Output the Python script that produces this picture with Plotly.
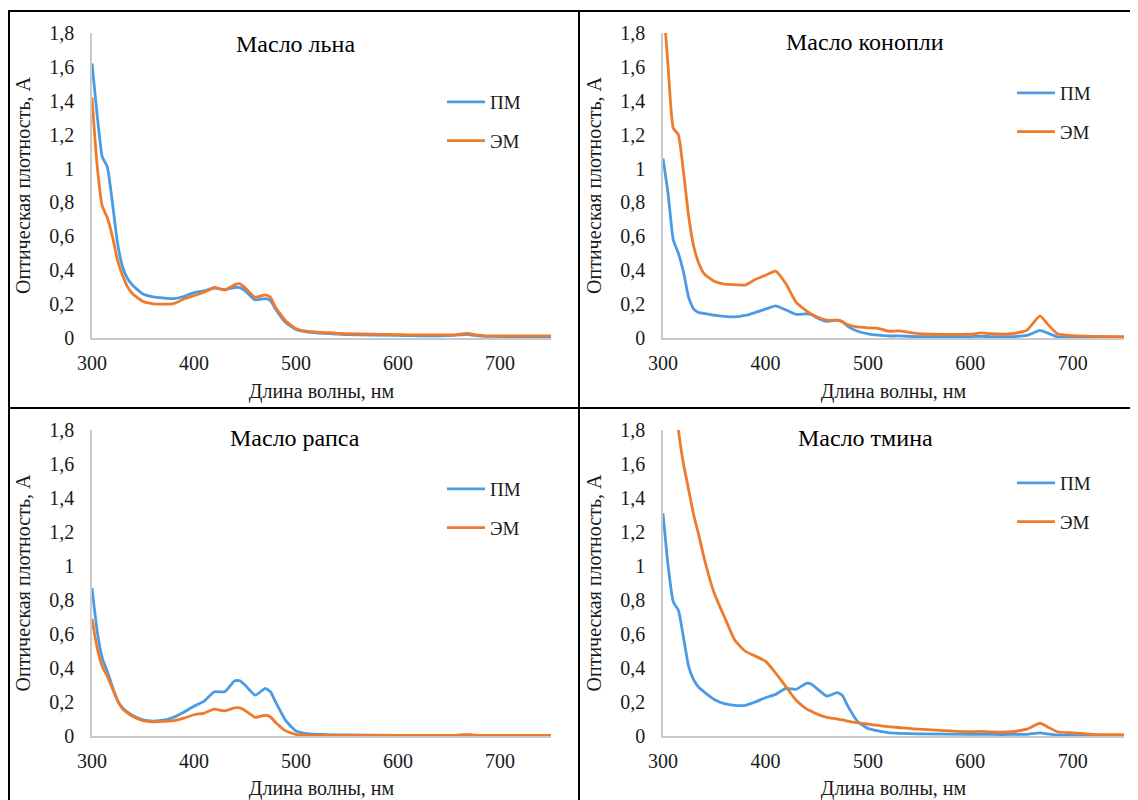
import plotly.graph_objects as go

# ---------------- data ----------------
wavelength = [300, 305, 310, 315, 320, 325, 330, 335, 340, 350, 360, 370, 380, 390,
              400, 410, 420, 430, 440, 445, 450, 460, 470, 475, 480, 490, 500, 510,
              520, 530, 550, 600, 610, 620, 640, 655, 668, 675, 685, 700, 720, 750]

flax_pm = [1.62, 1.32, 1.07, 1.01, 0.80, 0.56, 0.42, 0.35, 0.31, 0.26, 0.243, 0.236, 0.232, 0.245,
           0.268, 0.278, 0.295, 0.285, 0.298, 0.297, 0.28, 0.225, 0.232, 0.22, 0.17, 0.09, 0.05, 0.036,
           0.03, 0.027, 0.02, 0.015, 0.014, 0.013, 0.013, 0.015, 0.022, 0.015, 0.01, 0.009, 0.008, 0.007]
flax_em = [1.42, 1.02, 0.78, 0.71, 0.60, 0.46, 0.37, 0.30, 0.26, 0.215, 0.202, 0.20, 0.203, 0.23,
           0.25, 0.27, 0.298, 0.283, 0.315, 0.32, 0.298, 0.24, 0.255, 0.24, 0.18, 0.10, 0.055, 0.04,
           0.035, 0.031, 0.025, 0.02, 0.019, 0.018, 0.018, 0.019, 0.027, 0.02, 0.013, 0.012, 0.012, 0.012]

hemp_pm = [1.06, 0.85, 0.58, 0.50, 0.39, 0.24, 0.17, 0.15, 0.145, 0.135, 0.128, 0.125, 0.133, 0.15,
           0.17, 0.19, 0.165, 0.14, 0.142, 0.137, 0.12, 0.098, 0.105, 0.098, 0.07, 0.04, 0.025, 0.017,
           0.012, 0.012, 0.008, 0.008, 0.01, 0.008, 0.008, 0.015, 0.045, 0.03, 0.007, 0.004, 0.003, 0.003]
hemp_em = [2.0, 1.6, 1.24, 1.20, 0.98, 0.72, 0.54, 0.44, 0.38, 0.335, 0.318, 0.315, 0.312, 0.345,
           0.37, 0.395, 0.32, 0.21, 0.16, 0.14, 0.125, 0.105, 0.105, 0.095, 0.08, 0.065, 0.06, 0.057,
           0.04, 0.042, 0.025, 0.022, 0.03, 0.025, 0.025, 0.045, 0.13, 0.085, 0.025, 0.014, 0.01, 0.008]

rape_pm = [0.87, 0.62, 0.46, 0.38, 0.29, 0.21, 0.165, 0.14, 0.12, 0.095, 0.088, 0.093, 0.11, 0.14,
           0.175, 0.205, 0.26, 0.26, 0.325, 0.325, 0.30, 0.24, 0.28, 0.26, 0.20, 0.09, 0.03, 0.014,
           0.01, 0.008, 0.006, 0.004, 0.004, 0.003, 0.003, 0.004, 0.006, 0.004, 0.003, 0.002, 0.002, 0.002]
rape_em = [0.69, 0.52, 0.41, 0.35, 0.28, 0.21, 0.16, 0.135, 0.115, 0.09, 0.083, 0.086, 0.09, 0.105,
           0.125, 0.135, 0.158, 0.148, 0.165, 0.165, 0.15, 0.11, 0.122, 0.112, 0.08, 0.03, 0.01, 0.005,
           0.003, 0.003, 0.003, 0.003, 0.003, 0.003, 0.003, 0.004, 0.008, 0.005, 0.003, 0.003, 0.003, 0.003]

caraway_pm = [1.31, 1.00, 0.79, 0.74, 0.58, 0.41, 0.33, 0.285, 0.26, 0.215, 0.19, 0.18, 0.18, 0.20,
              0.225, 0.245, 0.28, 0.275, 0.31, 0.305, 0.28, 0.235, 0.255, 0.24, 0.18, 0.085, 0.045, 0.03,
              0.02, 0.016, 0.012, 0.01, 0.01, 0.009, 0.009, 0.01, 0.018, 0.013, 0.006, 0.004, 0.003, 0.003]
caraway_em = [2.6, 2.3, 2.05, 1.80, 1.60, 1.45, 1.30, 1.18, 1.05, 0.84, 0.70, 0.565, 0.50, 0.47,
              0.44, 0.37, 0.29, 0.21, 0.16, 0.145, 0.13, 0.11, 0.10, 0.095, 0.088, 0.077, 0.07, 0.062,
              0.055, 0.05, 0.04, 0.025, 0.027, 0.024, 0.025, 0.04, 0.075, 0.055, 0.025, 0.018, 0.01, 0.008]

panel_titles = ["Масло льна", "Масло конопли", "Масло рапса", "Масло тмина"]
series_names = ["ПМ", "ЭМ"]
x_title = "Длина волны, нм"
y_title = "Оптическая плотность, А"
x_ticks = [300, 400, 500, 600, 700]
y_ticks = [0, 0.2, 0.4, 0.6, 0.8, 1.0, 1.2, 1.4, 1.6, 1.8]

panels = [(flax_pm, flax_em), (hemp_pm, hemp_em), (rape_pm, rape_em), (caraway_pm, caraway_em)]

# ---------------- layout helpers ----------------
OFF = 8                      # page body margin offset
W, H = 1138 - OFF, 800 - OFF
BLUE = "#4A9BE6"
ORANGE = "#F07A2C"
FONT = "Liberation Serif, Times New Roman, serif"
TXT = "#1a1a1a"


def px_x(p):
    return (p - OFF) / W


def px_y(p):
    return 1 - (p - OFF) / H


# plot-area pixel boxes in window coords: (left, right, top(1.8), bottom(0))
boxes = [(92, 551, 33, 338), (663, 1124, 33, 338), (92, 551, 430, 736), (663, 1124, 430, 736)]
title_pos = [(295, 44), (865, 42), (295, 438), (865, 438)]
legend_pos = [(442, 83), (1012, 74), (442, 470), (1012, 464)]

fig = go.Figure()
layout = dict(
    width=W, height=H,
    margin=dict(l=0, r=0, t=0, b=0, autoexpand=False),
    paper_bgcolor="white", plot_bgcolor="white",
    separators=", ",
    font=dict(family=FONT, color=TXT, size=20),
    annotations=[], shapes=[],
)

for i, ((pm, em), (l, r, t, b)) in enumerate(zip(panels, boxes)):
    n = "" if i == 0 else str(i + 1)
    leg = "legend" if i == 0 else f"legend{i + 1}"
    for name, ys, col in ((series_names[0], pm, BLUE), (series_names[1], em, ORANGE)):
        fig.add_trace(go.Scatter(
            x=wavelength, y=ys, name=name, mode="lines",
            line=dict(color=col, width=2.8, shape="spline", smoothing=0.5),
            xaxis="x" + n, yaxis="y" + n, legend=leg, legendgroup=f"{i}{name}",
        ))
    layout["xaxis" + n] = dict(
        domain=[px_x(l), px_x(r)], anchor="y" + n, range=[300, 750],
        tickvals=x_ticks, showgrid=False, zeroline=False, showline=True,
        linecolor="#c9c9c9", linewidth=1.5, ticks="", ticklabelstandoff=6,
        automargin=False,
        tickfont=dict(size=20, family=FONT, color=TXT),
        title=dict(text=x_title, font=dict(size=20, family=FONT, color=TXT), standoff=11),
    )
    layout["yaxis" + n] = dict(
        domain=[px_y(b), px_y(t)], anchor="x" + n, range=[0, 1.8],
        tickvals=y_ticks, showgrid=False, zeroline=False, showline=True,
        linecolor="#c9c9c9", linewidth=1.5, ticks="", ticklabelstandoff=12,
        automargin=False,
        tickfont=dict(size=20, family=FONT, color=TXT),
        title=dict(text=y_title, font=dict(size=20, family=FONT, color=TXT), standoff=13),
    )
    lx, ly = legend_pos[i]
    layout[leg] = dict(
        x=px_x(lx), y=px_y(ly), xanchor="left", yanchor="top",
        bgcolor="rgba(0,0,0,0)", font=dict(size=19, family=FONT, color=TXT),
        traceorder="grouped", tracegroupgap=11, itemwidth=38,
    )
    tx, ty = title_pos[i]
    layout["annotations"].append(dict(
        text=panel_titles[i], x=px_x(tx), y=px_y(ty), xref="paper", yref="paper",
        showarrow=False, xanchor="center", yanchor="middle",
        font=dict(size=24, family=FONT, color="black"),
    ))

# panel frame lines (black)
frame = dict(type="line", xref="paper", yref="paper", line=dict(color="black", width=2))
layout["shapes"] = [
    dict(frame, x0=px_x(8), x1=px_x(1138), y0=px_y(11), y1=px_y(11)),
    dict(frame, x0=px_x(9), x1=px_x(9), y0=px_y(11), y1=px_y(800)),
    dict(frame, x0=px_x(579), x1=px_x(579), y0=px_y(11), y1=px_y(800)),
    dict(frame, x0=px_x(8), x1=px_x(1138), y0=px_y(408), y1=px_y(408)),
]

fig.update_layout(**layout)
fig.write_html("out.html")
